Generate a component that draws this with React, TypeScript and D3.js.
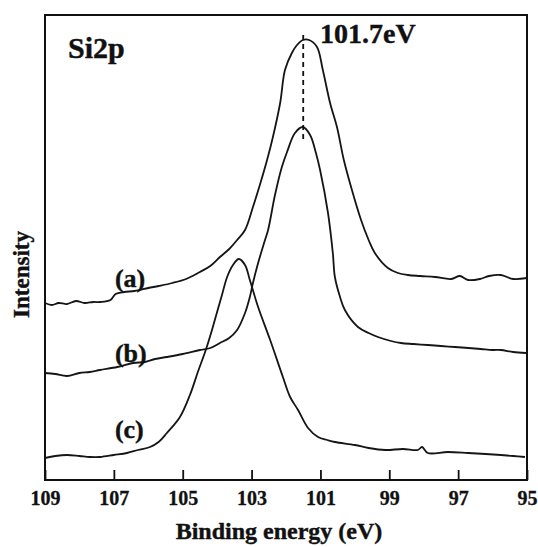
import { useEffect, useRef } from "react";
import * as d3 from "d3";

// binding energy (eV) / intensity (arb. units)
const curveA: [number, number][] = [
  [109.0, 177], [108.8, 175], [108.6, 177], [108.36, 176], [108.1, 179], [107.85, 177],
  [107.6, 178], [107.4, 178], [107.1, 180], [106.95, 186], [106.7, 188], [106.4, 189],
  [106.0, 192], [105.7, 194], [105.3, 197], [104.9, 201], [104.5, 208], [104.2, 214],
  [103.92, 223], [103.65, 231], [103.42, 240], [103.19, 250], [102.96, 273], [102.76, 295],
  [102.55, 320], [102.38, 343], [102.17, 377], [102.03, 410], [101.83, 427], [101.68, 435],
  [101.51, 440], [101.33, 440], [101.1, 433], [100.93, 410], [100.72, 377], [100.52, 353],
  [100.32, 320], [100.11, 293], [99.82, 260], [99.6, 240], [99.42, 227], [99.04, 212],
  [98.75, 207], [98.46, 205], [98.1, 204], [97.67, 203], [97.2, 201], [96.95, 204],
  [96.71, 200], [96.37, 201], [96.1, 204], [95.76, 205], [95.4, 201], [95.0, 202],
];

const curveB: [number, number][] = [
  [109.0, 107], [108.7, 106], [108.36, 104], [108.0, 107], [107.7, 108], [107.4, 110],
  [106.9, 113], [106.44, 117], [106.1, 118], [105.8, 121], [105.46, 123], [105.0, 126],
  [104.5, 130], [104.2, 132], [103.92, 137], [103.65, 142], [103.42, 150], [103.19, 167],
  [103.05, 183], [102.96, 197], [102.81, 217], [102.61, 240], [102.52, 250], [102.32, 285],
  [102.12, 313], [101.97, 328], [101.74, 347], [101.51, 353], [101.3, 345], [101.13, 327],
  [101.01, 310], [100.78, 267], [100.64, 227], [100.58, 203], [100.43, 183], [100.29, 170],
  [99.91, 153], [99.6, 147], [99.33, 143], [98.95, 139], [98.66, 137], [98.3, 136],
  [97.88, 135], [97.5, 134], [97.09, 133], [96.7, 132], [96.34, 131], [96.0, 130],
  [95.76, 130], [95.4, 128], [95.03, 127],
];

const curveC: [number, number][] = [
  [109.0, 22], [108.7, 24], [108.36, 25], [108.0, 24], [107.7, 23], [107.4, 23],
  [107.0, 25], [106.62, 27], [106.3, 30], [105.95, 33], [105.7, 38], [105.46, 47],
  [105.08, 63], [104.79, 85], [104.56, 108], [104.33, 130], [104.15, 150], [104.01, 167],
  [103.86, 185], [103.71, 203], [103.54, 215], [103.37, 221], [103.19, 215], [103.05, 200],
  [102.81, 173], [102.46, 140], [102.09, 103], [101.88, 83], [101.65, 70], [101.36, 52],
  [101.07, 43], [100.8, 40], [100.58, 38], [100.0, 35], [99.6, 32], [99.12, 30],
  [98.6, 31], [98.17, 30], [98.05, 33], [97.88, 27], [97.3, 28], [96.71, 27],
  [96.2, 26], [95.76, 25], [95.4, 24], [95.06, 23],
];

const series = [curveA, curveB, curveC];
const seriesNames = ["(a)", "(b)", "(c)"];
const seriesLabelPos: [number, number][] = [[106.97, 193], [106.97, 118], [106.97, 42]];

const xTicks = [109, 107, 105, 103, 101, 99, 97, 95];
const peakEnergy = 101.5;
const peakLineSpan: [number, number] = [340, 445];
const peakLabel = "101.7eV";
const peakLabelPos: [number, number] = [101.01, 437];
const panelLabel = "Si2p";
const panelLabelPos: [number, number] = [108.33, 422];
const xTitle = "Binding energy (eV)";
const yTitle = "Intensity";

const W = 538;
const H = 547;
const m = { left: 45, right: 11, top: 15, bottom: 67 };
const font = "'Liberation Serif', 'Times New Roman', serif";

export default function App() {
  const ref = useRef<SVGSVGElement>(null);

  useEffect(() => {
    const svg = d3.select(ref.current);
    svg.selectAll("*").remove();

    const x = d3.scaleLinear().domain([109, 95]).range([m.left, W - m.right]);
    const y = d3.scaleLinear().domain([0, 465]).range([H - m.bottom, m.top]);

    // frame
    svg.append("rect")
      .attr("x", m.left).attr("y", m.top)
      .attr("width", W - m.left - m.right).attr("height", H - m.top - m.bottom)
      .attr("fill", "none").attr("stroke", "#111").attr("stroke-width", 2);

    const xAxis = d3.axisBottom(x)
      .tickValues(xTicks)
      .tickFormat(d3.format("d"))
      .tickSizeInner(-10)
      .tickSizeOuter(0)
      .tickPadding(11);

    const ax = svg.append("g")
      .attr("transform", `translate(0,${H - m.bottom})`)
      .call(xAxis);
    ax.select(".domain").remove();
    ax.selectAll("line").attr("stroke", "#111").attr("stroke-width", 1.8);
    ax.selectAll("text")
      .attr("font-family", font).attr("font-size", 20).attr("font-weight", "bold")
      .attr("fill", "#111").attr("stroke", "#111").attr("stroke-width", 0.3);

    const line = d3.line<[number, number]>()
      .x(d => x(d[0]))
      .y(d => y(d[1]))
      .curve(d3.curveCatmullRom);

    series.forEach(s => {
      svg.append("path")
        .datum(s)
        .attr("fill", "none")
        .attr("stroke", "#151515")
        .attr("stroke-width", 1.8)
        .attr("stroke-linejoin", "round")
        .attr("d", line);
    });

    // dashed peak marker
    svg.append("line")
      .attr("x1", x(peakEnergy)).attr("x2", x(peakEnergy))
      .attr("y1", y(peakLineSpan[1])).attr("y2", y(peakLineSpan[0]))
      .attr("stroke", "#111").attr("stroke-width", 1.8)
      .attr("stroke-dasharray", "5,4");

    const txt = (t: string, px: number, py: number, size: number) =>
      svg.append("text")
        .attr("x", px).attr("y", py)
        .attr("font-family", font).attr("font-size", size).attr("font-weight", "bold")
        .attr("fill", "#111").attr("stroke", "#111").attr("stroke-width", 0.4)
        .text(t);

    seriesNames.forEach((n, i) => txt(n, x(seriesLabelPos[i][0]), y(seriesLabelPos[i][1]), 26));
    txt(peakLabel, x(peakLabelPos[0]), y(peakLabelPos[1]), 28);
    txt(panelLabel, x(panelLabelPos[0]), y(panelLabelPos[1]), 30);

    txt(xTitle, 279, 539, 24).attr("text-anchor", "middle");
    txt(yTitle, 0, 0, 23)
      .attr("x", null).attr("y", null)
      .attr("transform", `translate(29,${(m.top + H - m.bottom) / 2 + 27}) rotate(-90)`)
      .attr("text-anchor", "middle");
  }, []);

  return (
    <svg
      ref={ref}
      width={W}
      height={H}
      style={{ position: "absolute", left: 0, top: 0, background: "#fff" }}
    />
  );
}
